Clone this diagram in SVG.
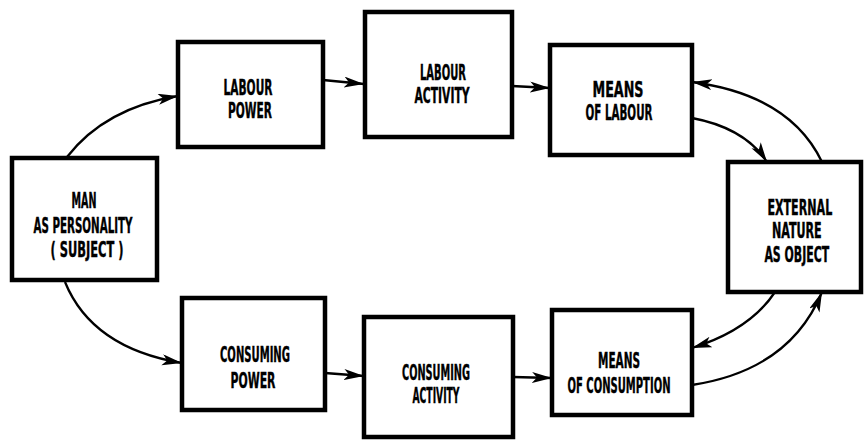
<svg xmlns="http://www.w3.org/2000/svg" width="864" height="442" viewBox="0 0 864 442">
<defs>
<marker id="ah" markerUnits="userSpaceOnUse" markerWidth="22" markerHeight="12" refX="20" refY="5.5" orient="auto">
<path d="M0,0 L20,5.5 L0,11 L5,5.5 Z" fill="#000"/>
</marker>
<style>
.box{fill:#fff;stroke:#000;stroke-width:4.5}
.lbl{font-family:"DejaVu Sans","Liberation Sans",sans-serif;font-weight:bold;font-stretch:condensed;font-size:20.5px;text-anchor:middle;fill:#000;stroke:#000;stroke-width:0.4}
.con{fill:none;stroke:#000;stroke-width:2.3;marker-end:url(#ah)}
</style>
</defs>
<rect width="864" height="442" fill="#fff"/>
<g id="connectors">
<path class="con" d="M67,157 Q105,108 178,96"/>
<path class="con" d="M65,282 Q92,348 182,363"/>
<path class="con" d="M323,80 L364,84"/>
<path class="con" d="M512,86 L550,88"/>
<path class="con" d="M692,118 Q745,128 767,162"/>
<path class="con" d="M822,162 Q790,95 692,82"/>
<path class="con" d="M775,292 Q750,330 692,348"/>
<path class="con" d="M692,385 Q790,370 822,292"/>
<path class="con" d="M325,373 L364,376"/>
<path class="con" d="M513,377 L552,378"/>
</g>
<g id="man">
<rect class="box" x="12" y="158" width="145" height="122"/>
<text class="lbl" x="84" y="208" textLength="25" lengthAdjust="spacingAndGlyphs">MAN</text>
<text class="lbl" x="83" y="233" textLength="99" lengthAdjust="spacingAndGlyphs">AS PERSONALITY</text>
<text class="lbl" x="87" y="257" textLength="73" lengthAdjust="spacingAndGlyphs">( SUBJECT )</text>
</g>
<g id="labour-power">
<rect class="box" x="178" y="42" width="145" height="105"/>
<text class="lbl" x="248" y="95" textLength="49" lengthAdjust="spacingAndGlyphs">LABOUR</text>
<text class="lbl" x="250" y="118" textLength="44" lengthAdjust="spacingAndGlyphs">POWER</text>
</g>
<g id="labour-activity">
<rect class="box" x="365" y="12" width="147" height="125"/>
<text class="lbl" x="443" y="80" textLength="46" lengthAdjust="spacingAndGlyphs">LABOUR</text>
<text class="lbl" x="442" y="103" textLength="55" lengthAdjust="spacingAndGlyphs">ACTIVITY</text>
</g>
<g id="means-of-labour">
<rect class="box" x="550" y="45" width="142" height="110"/>
<text class="lbl" x="618" y="97" textLength="51" lengthAdjust="spacingAndGlyphs">MEANS</text>
<text class="lbl" x="619" y="120" textLength="67" lengthAdjust="spacingAndGlyphs">OF LABOUR</text>
</g>
<g id="external-nature">
<rect class="box" x="728" y="162" width="133" height="130"/>
<g transform="matrix(0.6,0,0,1,798,0)">
<text class="lbl" x="3" y="215" textLength="108" lengthAdjust="spacingAndGlyphs">EXTERNAL</text>
<text class="lbl" x="-2" y="238" textLength="83" lengthAdjust="spacingAndGlyphs">NATURE</text>
<text class="lbl" x="-2" y="262" textLength="108" lengthAdjust="spacingAndGlyphs">AS OBJECT</text>
</g>
</g>
<g id="consuming-power">
<rect class="box" x="182" y="298" width="143" height="112"/>
<text class="lbl" x="255" y="362" textLength="70" lengthAdjust="spacingAndGlyphs">CONSUMING</text>
<text class="lbl" x="253" y="388" textLength="45" lengthAdjust="spacingAndGlyphs">POWER</text>
</g>
<g id="consuming-activity">
<rect class="box" x="364" y="317" width="149" height="120"/>
<text class="lbl" x="436" y="380" textLength="68" lengthAdjust="spacingAndGlyphs">CONSUMING</text>
<text class="lbl" x="436" y="403" textLength="47" lengthAdjust="spacingAndGlyphs">ACTIVITY</text>
</g>
<g id="means-of-consumption">
<rect class="box" x="552" y="310" width="140" height="105"/>
<text class="lbl" x="619" y="368" textLength="42" lengthAdjust="spacingAndGlyphs">MEANS</text>
<text class="lbl" x="619" y="393" textLength="103" lengthAdjust="spacingAndGlyphs">OF CONSUMPTION</text>
</g>
</svg>
